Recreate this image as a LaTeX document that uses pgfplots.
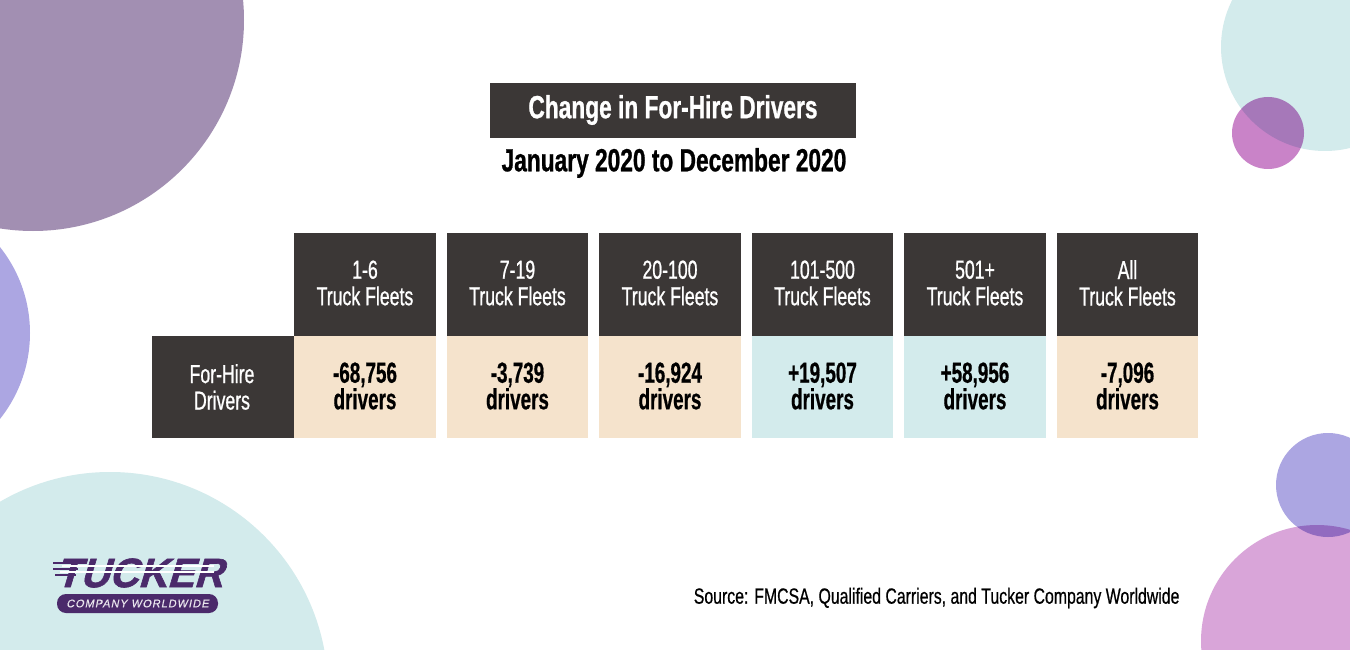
\documentclass[border=0pt]{standalone}
\usepackage{pgfplots}
\pgfplotsset{compat=1.18}
\usepackage{pgfplotstable}
\usepackage{fontspec}
\setmainfont{Liberation Sans}
\newfontfamily\cond{Liberation Sans}[FakeStretch=0.68,FakeBold=0.8]
\newfontfamily\condb{Liberation Sans Bold}[FakeStretch=0.65,FakeBold=0.6]
\newfontfamily\condt{Liberation Sans Bold}[FakeStretch=0.71,FakeBold=0.8]
\newfontfamily\condsrc{Liberation Sans}[FakeStretch=0.72,FakeBold=0.6]
\newfontfamily\logofont{Liberation Sans Bold}[FakeSlant=0.3,FakeStretch=0.98,FakeBold=1.5]
\newfontfamily\pillfont{Liberation Sans}[FakeSlant=0.2,LetterSpace=9,FakeBold=0.5]
\definecolor{dark}{HTML}{3B3736}
\definecolor{beige}{HTML}{F5E3CC}
\definecolor{tealc}{HTML}{D3EBEC}
\definecolor{tlpurple}{HTML}{A28FB2}
\definecolor{lav}{HTML}{ACA6E2}
\definecolor{magenta}{HTML}{C983C8}
\definecolor{pink}{HTML}{D9A5D9}
\definecolor{logop}{HTML}{4B2A6B}

\pgfplotstableread{
x y change
365 386 -68756
517.5 386 -3739
670 386 -16924
822.5 386 19507
975 386 58956
1127.5 386 -7096
}\drivertable

\begin{document}
\begin{tikzpicture}
\fill[white] (0,0) rectangle (1350pt,650pt);
\begin{axis}[
  at={(0,0)}, anchor=south west,
  width=1350pt, height=650pt, scale only axis,
  xmin=0, xmax=1350, ymin=0, ymax=650, y dir=reverse,
  hide axis, clip=true,
]
% decorative circles
\fill[tlpurple] (axis cs:33,20) circle[radius=211pt];
\fill[lav] (axis cs:-108,333) circle[radius=138pt];
\fill[tealc] (axis cs:110,690) circle[radius=218pt];
\fill[magenta] (axis cs:1268,133) circle[radius=36pt];
\fill[tealc, blend mode=multiply] (axis cs:1325,47) circle[radius=104pt];
\fill[lav] (axis cs:1328,485) circle[radius=52pt];
\fill[pink, blend mode=multiply] (axis cs:1317,641) circle[radius=116pt];

% title
\fill[dark] (axis cs:490,83) rectangle (axis cs:856,138);
\node[text=white, font=\condt\fontsize{32}{34}\selectfont] at (axis cs:673,110) {Change in For-Hire Drivers};
\node[text=black, font=\condt\fontsize{32}{34}\selectfont] at (axis cs:674,163) {January 2020 to December 2020};

% header cells
\fill[dark] (axis cs:294,233) rectangle (axis cs:436,336);
\fill[dark] (axis cs:447,233) rectangle (axis cs:588,336);
\fill[dark] (axis cs:599,233) rectangle (axis cs:741,336);
\fill[dark] (axis cs:752,233) rectangle (axis cs:893,336);
\fill[dark] (axis cs:904,233) rectangle (axis cs:1046,336);
\fill[dark] (axis cs:1057,233) rectangle (axis cs:1198,336);
% row label
\fill[dark] (axis cs:152,336) rectangle (axis cs:294,438);
% data cells
\fill[beige] (axis cs:294,336) rectangle (axis cs:436,438);
\fill[beige] (axis cs:447,336) rectangle (axis cs:588,438);
\fill[beige] (axis cs:599,336) rectangle (axis cs:741,438);
\fill[tealc] (axis cs:752,336) rectangle (axis cs:893,438);
\fill[tealc] (axis cs:904,336) rectangle (axis cs:1046,438);
\fill[beige] (axis cs:1057,336) rectangle (axis cs:1198,438);

\tikzset{hdr/.style={text=white, align=center, font=\cond\fontsize{26}{26.5}\selectfont}}
\node[hdr] at (axis cs:365,283) {1-6\\Truck Fleets};
\node[hdr] at (axis cs:517.5,283) {7-19\\Truck Fleets};
\node[hdr] at (axis cs:670,283) {20-100\\Truck Fleets};
\node[hdr] at (axis cs:822.5,283) {101-500\\Truck Fleets};
\node[hdr] at (axis cs:975,283) {501+\\Truck Fleets};
\node[hdr] at (axis cs:1127.5,283) {All\\Truck Fleets};
\node[hdr] at (axis cs:222,387) {For-Hire\\Drivers};

% data values
\addplot[only marks, mark=none, point meta=explicit,
  nodes near coords={\pgfmathprintnumber[fixed,precision=0,1000 sep={,},showpos,assume math mode=true]{\pgfplotspointmeta}\\drivers},
  nodes near coords align={center},
  every node near coord/.append style={anchor=center, align=center, text=black,
     font=\condb\fontsize{29}{24.5}\selectfont},
] table[x=x, y=y, meta=change] {\drivertable};

% source
\node[anchor=east, text=black, font=\condsrc\fontsize{22}{24}\selectfont] at (axis cs:1183,598) {Source: FMCSA, Qualified Carriers, and Tucker Company Worldwide};

% logo
\node[text=logop, font=\logofont\fontsize{41}{41}\selectfont, inner sep=0pt] at (axis cs:139,573) {TUCKER};
\draw[white, line width=1.4pt] (axis cs:62,566) -- (axis cs:214,566);
\draw[white, line width=1.4pt] (axis cs:60,572) -- (axis cs:214,572);
\draw[logop, line width=2pt] (axis cs:53,563) -- (axis cs:80,563);
\draw[logop, line width=2pt] (axis cs:53,569) -- (axis cs:78,569);
\draw[logop, line width=2pt] (axis cs:55,575) -- (axis cs:76,575);
\fill[logop, rounded corners=9pt] (axis cs:57,594) rectangle (axis cs:218,613);
\node[text=white!88!logop, font=\pillfont\fontsize{11}{11}\selectfont] at (axis cs:137.5,603.5) {COMPANY WORLDWIDE};
\end{axis}
\pgfresetboundingbox
\path[use as bounding box] (0,0) rectangle (1350pt,650pt);
\end{tikzpicture}
\end{document}
